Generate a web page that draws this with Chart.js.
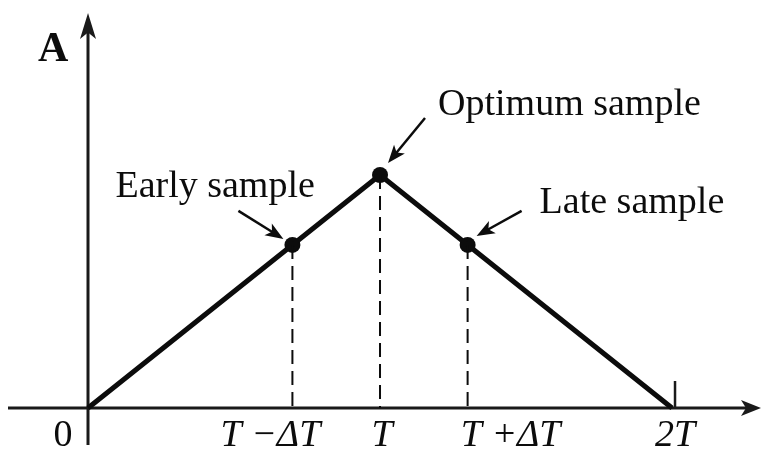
<!DOCTYPE html>
<html>
<head>
<meta charset="utf-8">
<script src="https://cdn.jsdelivr.net/npm/chart.js@4"></script>
<style>
  html, body { margin: 0; padding: 0; background: #fff; }
  #wrap { width: 764px; height: 450px; }
</style>
</head>
<body>
<div id="wrap"><canvas id="pulse" width="764" height="450"></canvas></div>
<script>
// triangle correlation pulse, time in units of T
var pulseX = [0, 1, 2];
var pulseY = [0, 1, 0];

// the three timing samples
var sampleX = [0.7, 1, 1.3];
var sampleY = [0.7, 1, 0.7];
var sampleNames = ['Early sample', 'Optimum sample', 'Late sample'];

// time axis ticks
var tickX = [0, 0.7, 1, 1.3, 2];
var tickLabels = ['0', 'T \u2212\u0394T', 'T', 'T +\u0394T', '2T'];

var INK = '#0c0c0c';

var dashSets = sampleX.map(function (x, i) {
  return {
    data: [{ x: x, y: sampleY[i] }, { x: x, y: 0 }],
    showLine: true,
    borderColor: INK,
    borderWidth: 2,
    borderDash: [14, 7],
    pointRadius: 0
  };
});

function arrow(ctx, x1, y1, x2, y2, len, half) {
  var a = Math.atan2(y2 - y1, x2 - x1);
  ctx.beginPath();
  ctx.moveTo(x1, y1);
  ctx.lineTo(x2 - Math.cos(a) * len * 0.7, y2 - Math.sin(a) * len * 0.7);
  ctx.stroke();
  ctx.beginPath();
  ctx.moveTo(x2, y2);
  ctx.lineTo(x2 - Math.cos(a) * len - Math.sin(a) * half, y2 - Math.sin(a) * len + Math.cos(a) * half);
  ctx.lineTo(x2 - Math.cos(a) * len * 0.75, y2 - Math.sin(a) * len * 0.75);
  ctx.lineTo(x2 - Math.cos(a) * len + Math.sin(a) * half, y2 - Math.sin(a) * len - Math.cos(a) * half);
  ctx.closePath();
  ctx.fill();
}

var axesPlugin = {
  id: 'axes',
  beforeDatasetsDraw: function (chart) {
    var ctx = chart.ctx, sx = chart.scales.x, sy = chart.scales.y;
    var x0 = sx.getPixelForValue(0), y0 = sy.getPixelForValue(0);
    ctx.save();
    ctx.strokeStyle = '#1a1a1a';
    ctx.fillStyle = '#1a1a1a';
    ctx.lineWidth = 3;
    // time axis
    arrow(ctx, 8, y0, 761, y0, 20, 8);
    // amplitude axis
    arrow(ctx, x0, 445, x0, 13, 26, 8);
    // end tick at 2T
    var xe = sx.getPixelForValue(2);
    ctx.lineWidth = 2.5;
    ctx.beginPath();
    ctx.moveTo(xe + 3, y0);
    ctx.lineTo(xe + 3, y0 - 27);
    ctx.stroke();
    ctx.restore();
  },
  afterDatasetsDraw: function (chart) {
    var ctx = chart.ctx, sx = chart.scales.x, sy = chart.scales.y;
    var y0 = sy.getPixelForValue(0);
    ctx.save();
    ctx.fillStyle = INK;
    ctx.strokeStyle = INK;

    // tick labels
    var nudge = [-25, -22, 2, 43, 3];
    ctx.textAlign = 'center';
    ctx.textBaseline = 'alphabetic';
    tickX.forEach(function (v, i) {
      ctx.font = (i === 0 ? '' : 'italic ') + '38px "Liberation Serif", serif';
      ctx.fillText(tickLabels[i], sx.getPixelForValue(v) + nudge[i], y0 + 38);
    });

    // amplitude label
    ctx.font = 'bold 42px "Liberation Serif", serif';
    ctx.textAlign = 'left';
    ctx.fillText('A', 38, 61);

    // sample callouts
    var textOff = [[-177, -48], [58, -60], [72, -32]];
    var tail = [[-54, -34], [45, -57], [54, -34]];
    var head = [[-9, -6], [8, -12], [9, -9]];
    ctx.font = '38px "Liberation Serif", serif';
    ctx.lineWidth = 2.5;
    sampleX.forEach(function (v, i) {
      var px = sx.getPixelForValue(v), py = sy.getPixelForValue(sampleY[i]);
      ctx.fillText(sampleNames[i], px + textOff[i][0], py + textOff[i][1]);
      arrow(ctx, px + tail[i][0], py + tail[i][1], px + head[i][0], py + head[i][1], 18, 7);
    });
    ctx.restore();
  }
};

new Chart(document.getElementById('pulse'), {
  type: 'scatter',
  data: {
    datasets: dashSets.concat([
      {
        data: pulseX.map(function (x, i) { return { x: x, y: pulseY[i] }; }),
        showLine: true,
        borderColor: INK,
        borderWidth: 5,
        pointRadius: 0
      },
      {
        data: sampleX.map(function (x, i) { return { x: x, y: sampleY[i] }; }),
        showLine: false,
        pointRadius: 8,
        pointBackgroundColor: INK,
        pointBorderWidth: 0
      }
    ])
  },
  options: {
    responsive: false,
    animation: false,
    layout: { padding: 0, autoPadding: false },
    plugins: { legend: { display: false }, tooltip: { enabled: false } },
    scales: {
      x: { type: 'linear', display: false, min: -0.3014, max: 2.315 },
      y: { type: 'linear', display: false, min: -0.1803, max: 1.7511 }
    }
  },
  plugins: [axesPlugin]
});
</script>
</body>
</html>
